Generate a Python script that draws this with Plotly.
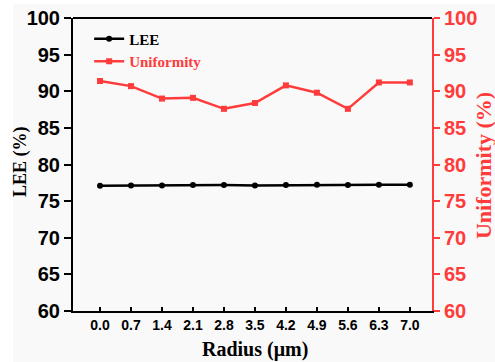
import plotly.graph_objects as go

radius = [0.0, 0.7, 1.4, 2.1, 2.8, 3.5, 4.2, 4.9, 5.6, 6.3, 7.0]
lee = [77.1, 77.15, 77.15, 77.2, 77.2, 77.15, 77.2, 77.25, 77.2, 77.25, 77.25]
uniformity = [91.4, 90.7, 89.0, 89.1, 87.6, 88.4, 90.8, 89.8, 87.6, 91.2, 91.2]
tick_labels = ["0.0", "0.7", "1.4", "2.1", "2.8", "3.5", "4.2", "4.9", "5.6", "6.3", "7.0"]
y_ticks = [60, 65, 70, 75, 80, 85, 90, 95, 100]

RED = "#ff3b3b"
SERIF = "Liberation Serif"
SANS = "Liberation Sans"

fig = go.Figure()
fig.add_trace(go.Scatter(
    x=radius, y=lee, name="LEE", mode="lines+markers",
    line=dict(color="black", width=2.5),
    marker=dict(symbol="circle", size=6, color="black"),
    yaxis="y"))
fig.add_trace(go.Scatter(
    x=radius, y=uniformity, name=f"<span style='color:{RED}'>Uniformity</span>",
    mode="lines+markers",
    line=dict(color=RED, width=2.5),
    marker=dict(symbol="square", size=6, color=RED),
    yaxis="y2"))

fig.update_layout(
    width=495, height=362,
    margin=dict(l=73, r=63, t=18, b=51),
    paper_bgcolor="#f9f9f9", plot_bgcolor="#f9f9f9",
    showlegend=True,
    legend=dict(x=0.045, y=0.985, xanchor="left", yanchor="top",
                bgcolor="rgba(0,0,0,0)", tracegroupgap=0,
                font=dict(family=SERIF, size=15, color="black", weight="bold"),
                itemwidth=30),
    xaxis=dict(range=[-0.61, 7.5], tickvals=radius, ticktext=tick_labels,
               ticks="inside", ticklen=4, tickwidth=1.5, tickcolor="black",
               showline=True, linecolor="black", linewidth=2, mirror=False,
               showgrid=False, zeroline=False, automargin=False,
               tickfont=dict(family=SANS, size=14, color="black", weight="bold")),
    yaxis=dict(range=[60, 100], tickvals=y_ticks,
               ticks="outside", ticklen=7, tickwidth=1.5, tickcolor="black",
               showline=True, linecolor="black", linewidth=2,
               showgrid=False, zeroline=False, automargin=False,
               tickfont=dict(family=SANS, size=20, color="black", weight="bold")),
    yaxis2=dict(range=[60, 100], tickvals=y_ticks, overlaying="y", side="right",
                ticks="outside", ticklen=6, tickwidth=1.5, tickcolor=RED,
                showline=True, linecolor=RED, linewidth=2,
                showgrid=False, zeroline=False, automargin=False,
                tickfont=dict(family=SANS, size=20, color=RED, weight="bold")),
)

# axis titles as annotations
fig.add_annotation(text="<b>LEE (%)</b>", xref="paper", yref="paper",
                   x=-0.1476, y=0.5085, xanchor="center", yanchor="middle",
                   textangle=-90, showarrow=False,
                   font=dict(family=SERIF, size=18, color="black"))
fig.add_annotation(text="<b>Uniformity (%)</b>", xref="paper", yref="paper",
                   x=1.142, y=0.498, xanchor="center", yanchor="middle",
                   textangle=-90, showarrow=False,
                   font=dict(family=SERIF, size=22, color=RED))
fig.add_annotation(text="<b>Radius (μm)</b>", xref="paper", yref="paper",
                   x=0.507, y=-0.133, xanchor="center", yanchor="middle",
                   showarrow=False,
                   font=dict(family=SERIF, size=20, color="black"))

# top frame line
fig.add_shape(type="line", xref="paper", yref="paper", x0=0, x1=1, y0=1, y1=1,
              line=dict(color="black", width=2))
# white margin strips at top and left of image
fig.add_shape(type="rect", xref="paper", yref="paper", x0=-0.21, x1=1.2, y0=1.048, y1=1.07,
              fillcolor="white", line=dict(width=0))
fig.add_shape(type="rect", xref="paper", yref="paper", x0=-0.21, x1=-0.167, y0=-0.2, y1=1.07,
              fillcolor="white", line=dict(width=0))

fig.write_html("out.html")
